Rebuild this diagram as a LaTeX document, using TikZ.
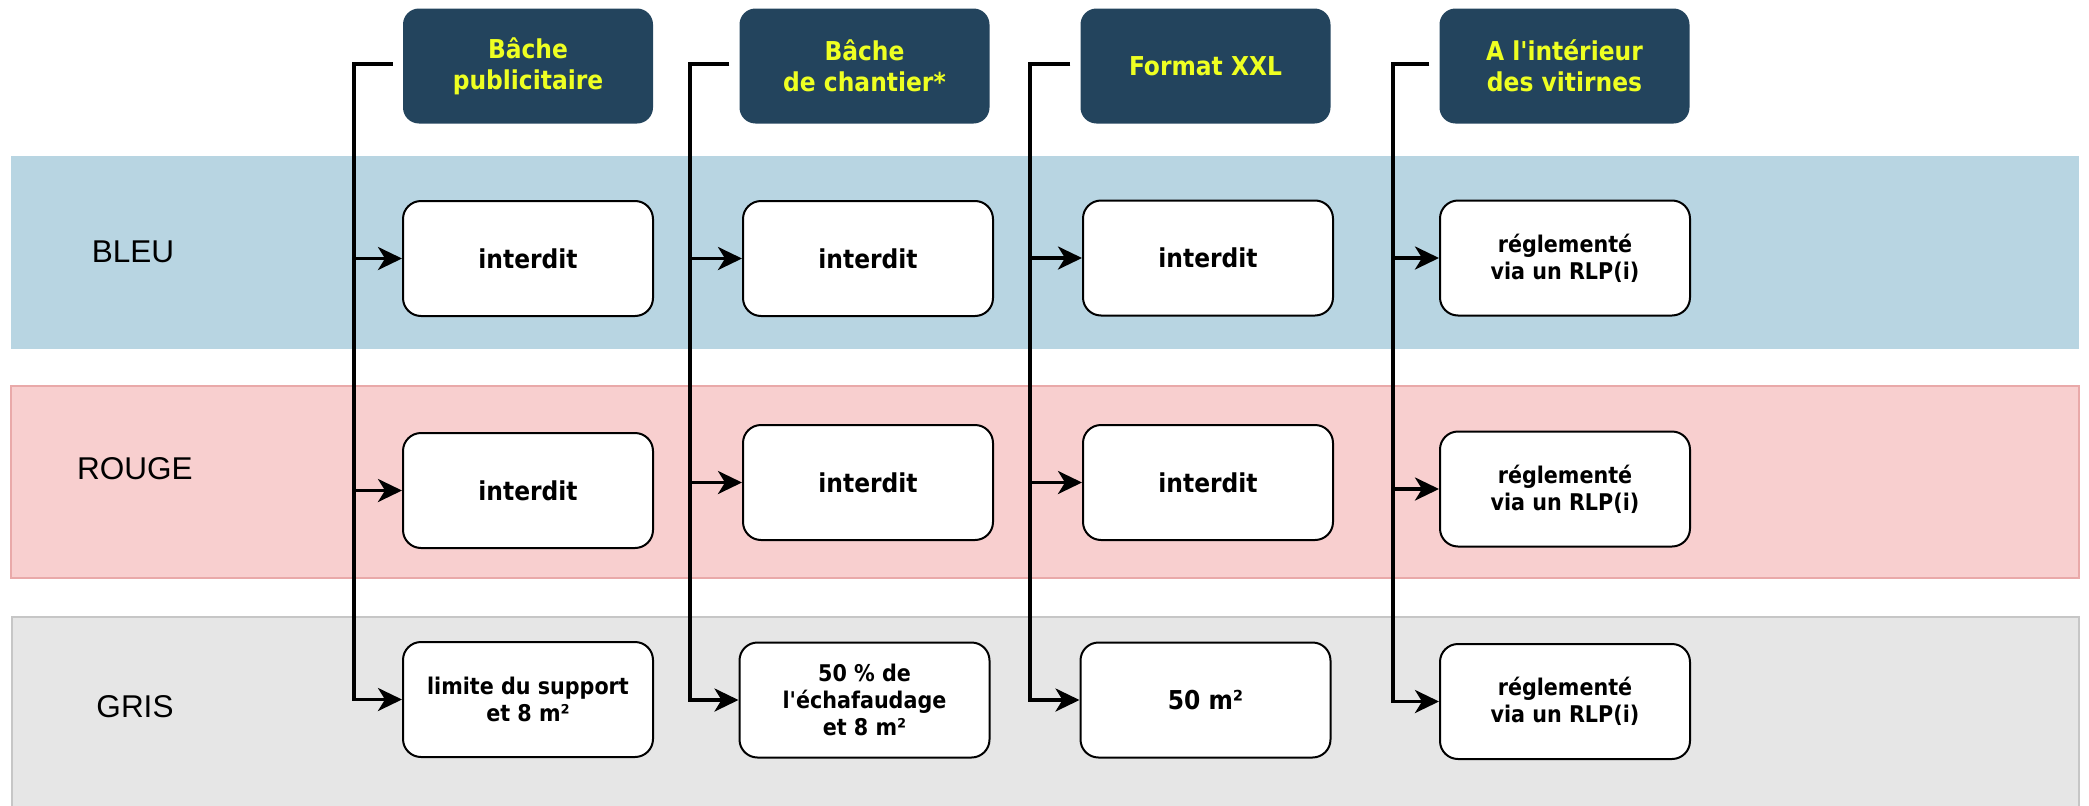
\documentclass[tikz,border=0pt]{standalone}
\usepackage{fontspec}
\setmainfont{Liberation Sans}
\newfontfamily\cellfont{DejaVu Sans Condensed}
\usetikzlibrary{arrows.meta,positioning}
\newcommand\bigcell{\cellfont\bfseries\fontsize{26}{31}\selectfont}
\newcommand\smallcell{\cellfont\bfseries\fontsize{23}{27}\selectfont}
\definecolor{headfill_tableau}{HTML}{23445D}
\definecolor{headtext_tableau}{HTML}{EEFF22}
\definecolor{bleufill_tableau}{HTML}{B8D5E2}
\definecolor{rougefill_tableau}{HTML}{F8CFCF}
\definecolor{rougedraw_tableau}{HTML}{E9A9A9}
\definecolor{grisfill_tableau}{HTML}{E6E6E6}
\definecolor{grisdraw_tableau}{HTML}{C6C6C6}

\begin{document}
\begin{tikzpicture}[x=1pt,y=-1pt]

            \useasboundingbox (0,0) rectangle (2089,806);

            % DEF STYLES
            \tikzstyle{headerstyle_tableau} = [rectangle, rounded corners=16pt, fill=headfill_tableau, text=headtext_tableau, minimum width=250pt, minimum height=115pt, inner sep=0pt, align=center, font=\bigcell]
            \tikzstyle{cellstyle_tableau} = [rectangle, rounded corners=18pt, draw=black, line width=2pt, fill=white, minimum width=250pt, minimum height=115pt, inner sep=0pt, align=center, font=\bigcell]
            \tikzstyle{rowlabelstyle_tableau} = [inner sep=0pt, font=\fontsize{31.5}{36}\selectfont]
            \tikzstyle{arrowstyle_tableau} = [line width=3.5pt, -{Stealth[length=24pt,width=23pt,inset=7pt]}]

            % BANDS
            \fill[bleufill_tableau] (11,156) rectangle (2079,349);
            \filldraw[fill=rougefill_tableau, draw=rougedraw_tableau, line width=1.5pt] (11,386) rectangle (2079,578);
            \filldraw[fill=grisfill_tableau, draw=grisdraw_tableau, line width=2pt] (12,617) rectangle (2079,830);

            % ROW LABELS
            \node[rowlabelstyle_tableau] (l1_tableau) at (133,251.5) {BLEU};
            \node[rowlabelstyle_tableau] (l2_tableau) at (135,469) {ROUGE};
            \node[rowlabelstyle_tableau] (l3_tableau) at (135,706.5) {GRIS};

            % HEADERS
            \node[headerstyle_tableau] (h1_tableau) at (528,66) {Bâche\\publicitaire};
            \node[headerstyle_tableau] (h2_tableau) at (864.5,66) {Bâche\\de chantier*};
            \node[headerstyle_tableau] (h3_tableau) at (1205.5,66) {Format XXL};
            \node[headerstyle_tableau] (h4_tableau) at (1564.5,66) {A l'intérieur\\des vitirnes};

            % CELLS
            \node[cellstyle_tableau] (b11_tableau) at (528,258.5) {interdit};
            \node[cellstyle_tableau] (b12_tableau) at (528,490.5) {interdit};
            \node[cellstyle_tableau, font=\smallcell] (b13_tableau) at (528,699.5) {limite du support\\et 8 m²};
            \node[cellstyle_tableau] (b21_tableau) at (868,258.5) {interdit};
            \node[cellstyle_tableau] (b22_tableau) at (868,482.5) {interdit};
            \node[cellstyle_tableau, font=\smallcell] (b23_tableau) at (864.5,700) {50 \% de\\l'échafaudage\\et 8 m²};
            \node[cellstyle_tableau] (b31_tableau) at (1208,258) {interdit};
            \node[cellstyle_tableau] (b32_tableau) at (1208,482.5) {interdit};
            \node[cellstyle_tableau] (b33_tableau) at (1205.5,700) {50 m²};
            \node[cellstyle_tableau, font=\smallcell] (b41_tableau) at (1565,258) {réglementé\\via un RLP(i)};
            \node[cellstyle_tableau, font=\smallcell] (b42_tableau) at (1565,489) {réglementé\\via un RLP(i)};
            \node[cellstyle_tableau, font=\smallcell] (b43_tableau) at (1565,701.5) {réglementé\\via un RLP(i)};

            % DEF COORDINATES
            \coordinate (t1_tableau) at (354,64);
            \coordinate (t2_tableau) at (690,64);
            \coordinate (t3_tableau) at (1030,64);
            \coordinate (t4_tableau) at (1393,64);
            \foreach \c in {1,...,4} {
              \coordinate (s\c_tableau) at ([xshift=-10pt]h\c_tableau.west |- t\c_tableau);
            }

            % EDGES
            \foreach \c in {1,...,4} {
              \draw[arrowstyle_tableau] (s\c_tableau) -- (t\c_tableau) |- (b\c3_tableau.west);
              \foreach \r in {1,2} {
                \draw[arrowstyle_tableau] (t\c_tableau |- b\c\r_tableau.west) -- (b\c\r_tableau.west);
              }
            }

\end{tikzpicture}
\end{document}
